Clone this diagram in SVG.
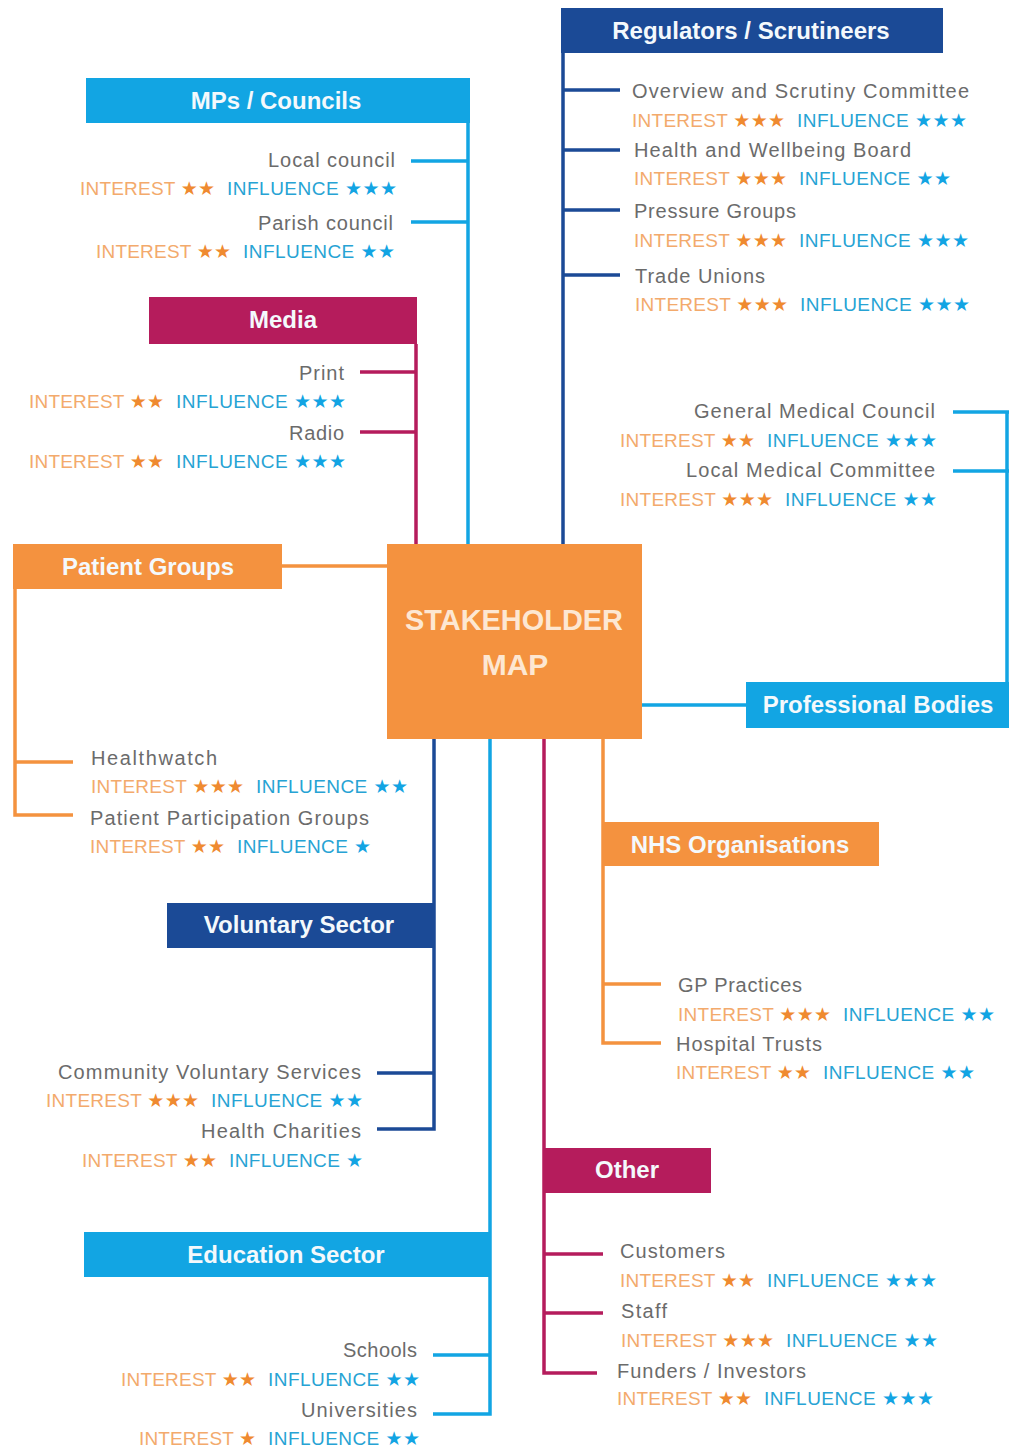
<svg xmlns="http://www.w3.org/2000/svg" width="1009" height="1449" viewBox="0 0 1009 1449">
<style>
.bg{fill:#ffffff}
.hd{font-family:"Liberation Sans",Arial,sans-serif;font-weight:bold;font-size:24px;fill:#f4f9fc;text-anchor:middle}
.nm{font-family:"Liberation Sans",Arial,sans-serif;font-size:20px;fill:#6b6b6b}
.rt{font-family:"Liberation Sans",Arial,sans-serif;font-size:19px}
.iw{fill:#f3aa6c}
.is{fill:#ef8a30;font-family:"DejaVu Sans",sans-serif;font-size:19px}
.fw{fill:#27a3d4}
.fs{fill:#12a4e3;font-family:"DejaVu Sans",sans-serif;font-size:19px}
.lb{fill:#12a5e3}.nv{fill:#1b4a96}.mg{fill:#b51c5c}.or{fill:#f4923f}
.c{fill:none;stroke-width:3.5}
.clb{stroke:#12a5e3}.cnv{stroke:#1b4a96}.cmg{stroke:#b51c5c}.cor{stroke:#f4923f}
</style>
<rect class="bg" x="0" y="0" width="1009" height="1449"/>

<g id="connectors">
  <path class="c clb" d="M468,123 V544 M411,161 H468 M411,222 H468"/>
  <path class="c clb" d="M642,705 H746 M1007,412 V682 M953,412 H1009 M953,471 H1009"/>
  <path class="c clb" d="M490,739 V1414 H433 M433,1355 H490"/>
  <path class="c cnv" d="M563,53 V544 M563,90 H620 M563,150 H620 M563,210 H620 M563,275 H620"/>
  <path class="c cnv" d="M434,739 V1129 H377 M377,1073 H434"/>
  <path class="c cmg" d="M416,344 V544 M360,372 H416 M360,432 H416"/>
  <path class="c cmg" d="M544,739 V1373 H597 M544,1254 H603 M544,1313 H603"/>
  <path class="c cor" d="M282,566 H387 M15,589 V815 H73 M15,762 H73"/>
  <path class="c cor" d="M603,739 V1043 H661 M603,984 H661"/>
</g>

<g id="center">
  <rect x="387" y="544" width="255" height="195" class="or"/>
  <text x="514" y="630" font-family="'Liberation Sans',Arial,sans-serif" font-weight="bold" font-size="30" fill="#fde7d2" text-anchor="middle" textLength="218" lengthAdjust="spacingAndGlyphs">STAKEHOLDER</text>
  <text x="515" y="675" font-family="'Liberation Sans',Arial,sans-serif" font-weight="bold" font-size="30" fill="#fde7d2" text-anchor="middle">MAP</text>
</g>

<g id="mps-councils">
  <rect x="86" y="78" width="384" height="45" class="lb"/>
  <text class="hd" x="276" y="109">MPs / Councils</text>
</g>
<g id="local-council">
  <text class="nm" x="268" y="167" textLength="127">Local council</text>
  <text class="rt" x="80" y="195" textLength="135"><tspan class="iw">INTEREST</tspan> <tspan class="is">★★</tspan></text>
  <text class="rt" x="227" y="195" textLength="170"><tspan class="fw">INFLUENCE</tspan> <tspan class="fs">★★★</tspan></text>
</g>
<g id="parish-council">
  <text class="nm" x="258" y="230" textLength="135">Parish council</text>
  <text class="rt" x="96" y="258" textLength="135"><tspan class="iw">INTEREST</tspan> <tspan class="is">★★</tspan></text>
  <text class="rt" x="243" y="258" textLength="152"><tspan class="fw">INFLUENCE</tspan> <tspan class="fs">★★</tspan></text>
</g>

<g id="regulators">
  <rect x="561" y="8" width="382" height="45" class="nv"/>
  <text class="hd" x="751" y="39">Regulators / Scrutineers</text>
</g>
<g id="overview-scrutiny">
  <text class="nm" x="632" y="98" textLength="337">Overview and Scrutiny Committee</text>
  <text class="rt" x="632" y="127" textLength="153"><tspan class="iw">INTEREST</tspan> <tspan class="is">★★★</tspan></text>
  <text class="rt" x="797" y="127" textLength="170"><tspan class="fw">INFLUENCE</tspan> <tspan class="fs">★★★</tspan></text>
</g>
<g id="health-wellbeing">
  <text class="nm" x="634" y="157" textLength="277">Health and Wellbeing Board</text>
  <text class="rt" x="634" y="185" textLength="153"><tspan class="iw">INTEREST</tspan> <tspan class="is">★★★</tspan></text>
  <text class="rt" x="799" y="185" textLength="152"><tspan class="fw">INFLUENCE</tspan> <tspan class="fs">★★</tspan></text>
</g>
<g id="pressure-groups">
  <text class="nm" x="634" y="218" textLength="162">Pressure Groups</text>
  <text class="rt" x="634" y="247" textLength="153"><tspan class="iw">INTEREST</tspan> <tspan class="is">★★★</tspan></text>
  <text class="rt" x="799" y="247" textLength="170"><tspan class="fw">INFLUENCE</tspan> <tspan class="fs">★★★</tspan></text>
</g>
<g id="trade-unions">
  <text class="nm" x="635" y="283" textLength="130">Trade Unions</text>
  <text class="rt" x="635" y="311" textLength="153"><tspan class="iw">INTEREST</tspan> <tspan class="is">★★★</tspan></text>
  <text class="rt" x="800" y="311" textLength="170"><tspan class="fw">INFLUENCE</tspan> <tspan class="fs">★★★</tspan></text>
</g>

<g id="media">
  <rect x="149" y="297" width="268" height="47" class="mg"/>
  <text class="hd" x="283" y="328">Media</text>
</g>
<g id="print">
  <text class="nm" x="299" y="380" textLength="45">Print</text>
  <text class="rt" x="29" y="408" textLength="135"><tspan class="iw">INTEREST</tspan> <tspan class="is">★★</tspan></text>
  <text class="rt" x="176" y="408" textLength="170"><tspan class="fw">INFLUENCE</tspan> <tspan class="fs">★★★</tspan></text>
</g>
<g id="radio">
  <text class="nm" x="289" y="440" textLength="55">Radio</text>
  <text class="rt" x="29" y="468" textLength="135"><tspan class="iw">INTEREST</tspan> <tspan class="is">★★</tspan></text>
  <text class="rt" x="176" y="468" textLength="170"><tspan class="fw">INFLUENCE</tspan> <tspan class="fs">★★★</tspan></text>
</g>

<g id="professional-bodies">
  <rect x="746" y="682" width="263" height="46" class="lb"/>
  <text class="hd" x="878" y="713">Professional Bodies</text>
</g>
<g id="general-medical-council">
  <text class="nm" x="694" y="418" textLength="241">General Medical Council</text>
  <text class="rt" x="620" y="447" textLength="135"><tspan class="iw">INTEREST</tspan> <tspan class="is">★★</tspan></text>
  <text class="rt" x="767" y="447" textLength="170"><tspan class="fw">INFLUENCE</tspan> <tspan class="fs">★★★</tspan></text>
</g>
<g id="local-medical-committee">
  <text class="nm" x="686" y="477" textLength="249">Local Medical Committee</text>
  <text class="rt" x="620" y="506" textLength="153"><tspan class="iw">INTEREST</tspan> <tspan class="is">★★★</tspan></text>
  <text class="rt" x="785" y="506" textLength="152"><tspan class="fw">INFLUENCE</tspan> <tspan class="fs">★★</tspan></text>
</g>

<g id="patient-groups">
  <rect x="13" y="544" width="269" height="45" class="or"/>
  <text class="hd" x="148" y="575">Patient Groups</text>
</g>
<g id="healthwatch">
  <text class="nm" x="91" y="765" textLength="126">Healthwatch</text>
  <text class="rt" x="91" y="793" textLength="153"><tspan class="iw">INTEREST</tspan> <tspan class="is">★★★</tspan></text>
  <text class="rt" x="256" y="793" textLength="152"><tspan class="fw">INFLUENCE</tspan> <tspan class="fs">★★</tspan></text>
</g>
<g id="patient-participation-groups">
  <text class="nm" x="90" y="825" textLength="279">Patient Participation Groups</text>
  <text class="rt" x="90" y="853" textLength="135"><tspan class="iw">INTEREST</tspan> <tspan class="is">★★</tspan></text>
  <text class="rt" x="237" y="853" textLength="134"><tspan class="fw">INFLUENCE</tspan> <tspan class="fs">★</tspan></text>
</g>

<g id="nhs-organisations">
  <rect x="602" y="822" width="277" height="44" class="or"/>
  <text class="hd" x="740" y="853">NHS Organisations</text>
</g>
<g id="gp-practices">
  <text class="nm" x="678" y="992" textLength="124">GP Practices</text>
  <text class="rt" x="678" y="1021" textLength="153"><tspan class="iw">INTEREST</tspan> <tspan class="is">★★★</tspan></text>
  <text class="rt" x="843" y="1021" textLength="152"><tspan class="fw">INFLUENCE</tspan> <tspan class="fs">★★</tspan></text>
</g>
<g id="hospital-trusts">
  <text class="nm" x="676" y="1051" textLength="146">Hospital Trusts</text>
  <text class="rt" x="676" y="1079" textLength="135"><tspan class="iw">INTEREST</tspan> <tspan class="is">★★</tspan></text>
  <text class="rt" x="823" y="1079" textLength="152"><tspan class="fw">INFLUENCE</tspan> <tspan class="fs">★★</tspan></text>
</g>

<g id="voluntary-sector">
  <rect x="167" y="903" width="267" height="45" class="nv"/>
  <text class="hd" x="299" y="933">Voluntary Sector</text>
</g>
<g id="community-voluntary-services">
  <text class="nm" x="58" y="1079" textLength="303">Community Voluntary Services</text>
  <text class="rt" x="46" y="1107" textLength="153"><tspan class="iw">INTEREST</tspan> <tspan class="is">★★★</tspan></text>
  <text class="rt" x="211" y="1107" textLength="152"><tspan class="fw">INFLUENCE</tspan> <tspan class="fs">★★</tspan></text>
</g>
<g id="health-charities">
  <text class="nm" x="201" y="1138" textLength="160">Health Charities</text>
  <text class="rt" x="82" y="1167" textLength="135"><tspan class="iw">INTEREST</tspan> <tspan class="is">★★</tspan></text>
  <text class="rt" x="229" y="1167" textLength="134"><tspan class="fw">INFLUENCE</tspan> <tspan class="fs">★</tspan></text>
</g>

<g id="other">
  <rect x="543" y="1148" width="168" height="45" class="mg"/>
  <text class="hd" x="627" y="1178">Other</text>
</g>
<g id="customers">
  <text class="nm" x="620" y="1258" textLength="105">Customers</text>
  <text class="rt" x="620" y="1287" textLength="135"><tspan class="iw">INTEREST</tspan> <tspan class="is">★★</tspan></text>
  <text class="rt" x="767" y="1287" textLength="170"><tspan class="fw">INFLUENCE</tspan> <tspan class="fs">★★★</tspan></text>
</g>
<g id="staff">
  <text class="nm" x="621" y="1318" textLength="46">Staff</text>
  <text class="rt" x="621" y="1347" textLength="153"><tspan class="iw">INTEREST</tspan> <tspan class="is">★★★</tspan></text>
  <text class="rt" x="786" y="1347" textLength="152"><tspan class="fw">INFLUENCE</tspan> <tspan class="fs">★★</tspan></text>
</g>
<g id="funders-investors">
  <text class="nm" x="617" y="1378" textLength="189">Funders / Investors</text>
  <text class="rt" x="617" y="1405" textLength="135"><tspan class="iw">INTEREST</tspan> <tspan class="is">★★</tspan></text>
  <text class="rt" x="764" y="1405" textLength="170"><tspan class="fw">INFLUENCE</tspan> <tspan class="fs">★★★</tspan></text>
</g>

<g id="education-sector">
  <rect x="84" y="1232" width="407" height="45" class="lb"/>
  <text class="hd" x="286" y="1263">Education Sector</text>
</g>
<g id="schools">
  <text class="nm" x="343" y="1357" textLength="74">Schools</text>
  <text class="rt" x="121" y="1386" textLength="135"><tspan class="iw">INTEREST</tspan> <tspan class="is">★★</tspan></text>
  <text class="rt" x="268" y="1386" textLength="152"><tspan class="fw">INFLUENCE</tspan> <tspan class="fs">★★</tspan></text>
</g>
<g id="universities">
  <text class="nm" x="301" y="1417" textLength="116">Universities</text>
  <text class="rt" x="139" y="1445" textLength="117"><tspan class="iw">INTEREST</tspan> <tspan class="is">★</tspan></text>
  <text class="rt" x="268" y="1445" textLength="152"><tspan class="fw">INFLUENCE</tspan> <tspan class="fs">★★</tspan></text>
</g>
</svg>
